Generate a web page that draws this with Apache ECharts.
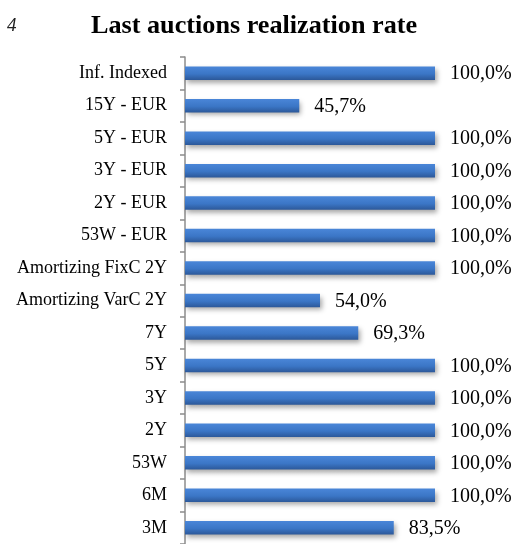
<!DOCTYPE html>
<html>
<head>
<meta charset="utf-8">
<script src="https://cdn.jsdelivr.net/npm/echarts@6/dist/echarts.min.js"></script>
<style>html,body{margin:0;padding:0;background:#fff;}#c{width:518px;height:544px;}</style>
</head>
<body>
<div id="c"></div>
<script>
const categories = ["Inf. Indexed","15Y - EUR","5Y - EUR","3Y - EUR","2Y - EUR","53W - EUR","Amortizing FixC 2Y","Amortizing VarC 2Y","7Y","5Y","3Y","2Y","53W","6M","3M"];
const values = [100,45.7,100,100,100,100,100,54.0,69.3,100,100,100,100,100,83.5];
const titleText = "Last auctions realization rate";
const pageNumber = "4";

const chart = echarts.init(document.getElementById('c'), null, {renderer:'canvas'});
const serif = '"Liberation Serif", "DejaVu Serif", serif';
chart.setOption({
  animation:false,
  backgroundColor:'#fff',
  title:{text:titleText,left:86,top:8,textStyle:{fontFamily:serif,fontSize:26.2,fontWeight:'bold',color:'#000'}},
  graphic:[{type:'text',left:7,top:16,style:{text:pageNumber,font:'italic 19px "Liberation Serif", serif',fill:'#222'}}],
  grid:{left:185,top:57,width:250,height:489.75,containLabel:false},
  xAxis:{type:'value',min:0,max:100,show:false},
  yAxis:{type:'category',data:categories,inverse:true,
    axisLine:{show:true,lineStyle:{color:'#8c8c8c',width:1.5}},
    axisTick:{show:true,length:5,lineStyle:{color:'#8c8c8c',width:1.5}},
    axisLabel:{margin:18,fontFamily:serif,fontSize:18,color:'#000'}},
  series:[{type:'bar',data:values,barWidth:13.5,
    itemStyle:{color:new echarts.graphic.LinearGradient(0,0,0,1,[{offset:0,color:'#4a86d8'},{offset:0.55,color:'#3b76c6'},{offset:1,color:'#2c5899'}]),
      shadowColor:'rgba(0,0,0,0.35)',shadowBlur:5,shadowOffsetX:2,shadowOffsetY:3},
    label:{show:true,position:'right',distance:15,fontFamily:serif,fontSize:20,color:'#000',offset:[0,1],
      formatter:p=>p.value.toFixed(1).replace('.',',')+'%'}}]
});
</script>
</body>
</html>
